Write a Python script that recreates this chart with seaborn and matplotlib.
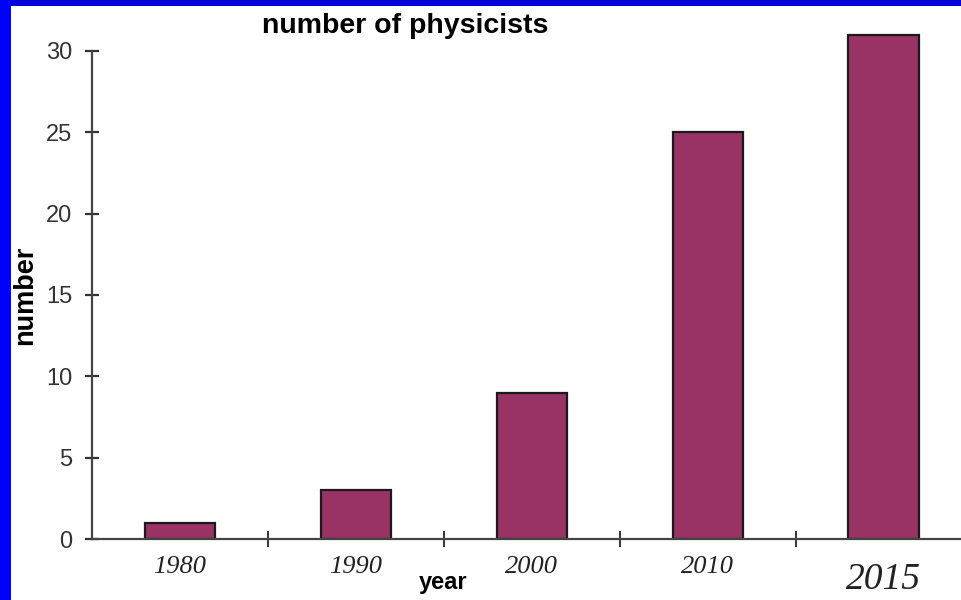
import matplotlib
matplotlib.use("Agg")
import matplotlib.pyplot as plt
import seaborn as sns
import pandas as pd
from matplotlib.patches import Rectangle

# dados
anos = ["1980", "1990", "2000", "2010", "2015"]
fisicos = [1, 3, 9, 25, 31]
yticks = [0, 5, 10, 15, 20, 25, 30]

df = pd.DataFrame({"ano": anos, "numero": fisicos})

sns.set_style("white")
plt.rcParams["font.family"] = ["Liberation Sans", "DejaVu Sans"]

fig = plt.figure(figsize=(9.61, 6.0), dpi=100)
fig.patch.set_facecolor("#0000ff")
# painel branco com a borda azul à esquerda e em cima
fig.add_artist(Rectangle((11 / 961, 0), 1, 1 - 6 / 600, transform=fig.transFigure,
                         facecolor="white", edgecolor="none", zorder=0))
fig.add_artist(Rectangle((11 / 961, 1 - 6 / 600), 1, 6 / 600, transform=fig.transFigure,
                         facecolor="#0000d8", edgecolor="none", zorder=0))

ax = fig.add_axes([92 / 961, 61 / 600, 1 - 92 / 961, (567 - 61) / 600])
ax.set_facecolor("none")

sns.barplot(data=df, x="ano", y="numero", color="#993366", width=0.4,
            edgecolor="#1a1a1a", linewidth=1.6, saturation=1, ax=ax)

ax.set_xlim(-0.5, 4.44)
ax.set_ylim(0, 31.1)
ax.set_yticks(yticks)
ax.set_yticklabels([str(t) for t in yticks], fontsize=17, color="#333333")

ax.set_xticks(range(len(anos)))
ax.set_xticklabels(anos, fontsize=19, family="Liberation Serif", style="italic", color="#222222")
ax.get_xticklabels()[-1].set_fontsize(27)
ax.tick_params(axis="x", which="major", bottom=True, length=0, pad=12)
ax.xaxis.get_major_ticks()[-1].set_pad(17)
ax.set_xticks([0.5, 1.5, 2.5, 3.5], minor=True)
ax.tick_params(axis="x", which="minor", bottom=True, direction="inout", length=12,
               width=1.4, color="#333333")
ax.tick_params(axis="y", left=True, direction="inout", length=10, width=1.6,
               color="#333333", pad=9)

for s in ["top", "right"]:
    ax.spines[s].set_visible(False)
ax.spines["left"].set_bounds(0, 30)
for s in ["left", "bottom"]:
    ax.spines[s].set_color("#444444")
    ax.spines[s].set_linewidth(1.6)

ax.set_xlabel("")
ax.set_ylabel("")
fig.text(405 / 961, 1 - 26 / 600, "number of physicists", fontsize=20.5, fontweight="bold",
         ha="center", va="center", color="black")
fig.text(443 / 961, 1 - 582 / 600, "year", fontsize=17, fontweight="bold", ha="center",
         va="center", color="black")
fig.text(25 / 961, 1 - 295 / 600, "number", fontsize=19.5, fontweight="bold", rotation=90,
         ha="center", va="center", color="black")

fig.savefig("out.png", dpi=100, facecolor=fig.get_facecolor())
